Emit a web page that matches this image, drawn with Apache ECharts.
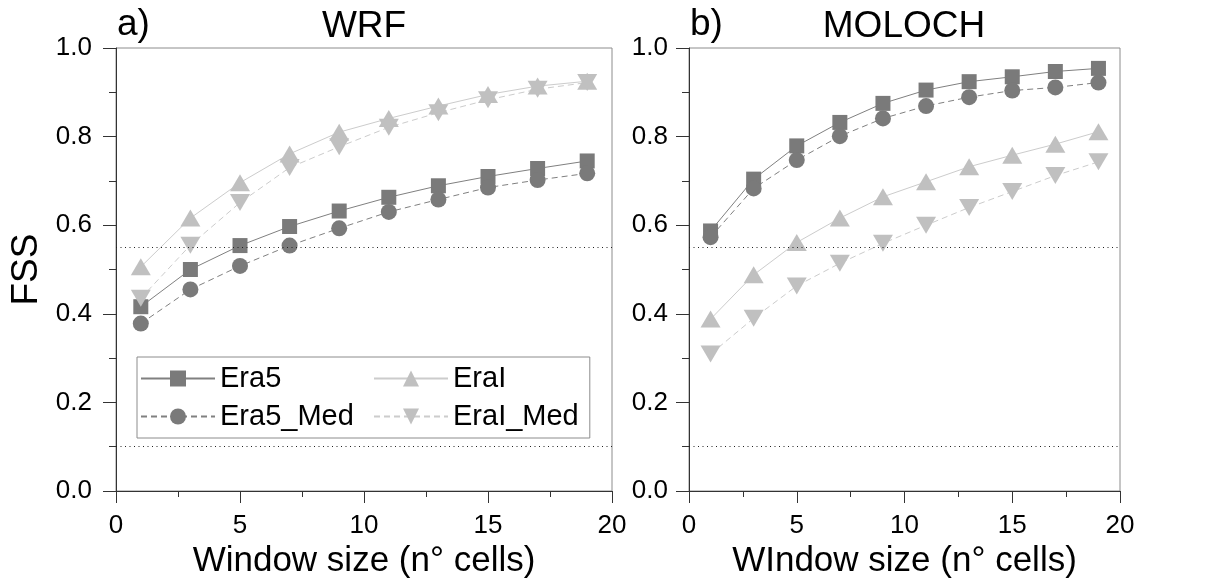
<!DOCTYPE html>
<html>
<head>
<meta charset="utf-8">
<script src="https://cdn.jsdelivr.net/npm/echarts@6/dist/echarts.min.js"></script>
<style>
  html, body { margin: 0; padding: 0; background: #fff; }
  #chart { width: 1220px; height: 584px; }
</style>
</head>
<body>
<div id="chart"></div>
<script>
// data
var windowSizes = [1, 3, 5, 7, 9, 11, 13, 15, 17, 19];

var wrfEra5    = [0.416, 0.500, 0.554, 0.597, 0.632, 0.663, 0.689, 0.710, 0.728, 0.745];
var wrfEra5Med = [0.378, 0.455, 0.508, 0.554, 0.593, 0.630, 0.658, 0.685, 0.702, 0.717];
var wrfEraI    = [0.506, 0.616, 0.696, 0.761, 0.810, 0.841, 0.869, 0.895, 0.914, 0.925];
var wrfEraIMed = [0.435, 0.555, 0.651, 0.730, 0.777, 0.821, 0.854, 0.883, 0.907, 0.922];

var molEra5    = [0.587, 0.704, 0.779, 0.832, 0.875, 0.905, 0.924, 0.935, 0.947, 0.954];
var molEra5Med = [0.573, 0.683, 0.747, 0.801, 0.841, 0.869, 0.889, 0.904, 0.911, 0.922];
var molEraI    = [0.388, 0.488, 0.561, 0.616, 0.664, 0.698, 0.732, 0.758, 0.783, 0.811];
var molEraIMed = [0.309, 0.390, 0.463, 0.514, 0.559, 0.600, 0.640, 0.676, 0.712, 0.743];

var thresholds = [0.55, 0.1];
var panelTags = ['a)', 'b)'];
var panelTitles = ['WRF', 'MOLOCH'];
var xNames = ['Window size (n° cells)', 'WIndow size (n° cells)'];
var seriesNames = ['Era5', 'Era5_Med', 'EraI', 'EraI_Med'];

(function () {
  var font = 'Liberation Sans, Arial, sans-serif';
  var dark = '#7a7a7a', light = '#c0c0c0';

  var styles = {
    'Era5':     { symbol: 'rect', size: 15, rotate: 0, color: dark, line: '#808080', type: 'solid' },
    'Era5_Med': { symbol: 'circle', size: 16, rotate: 0, color: dark, line: '#808080', type: [6, 4] },
    'EraI':     { symbol: 'triangle', size: [20, 17], rotate: 0, color: light, line: '#cccccc', type: 'solid' },
    'EraI_Med': { symbol: 'triangle', size: [20, 17], rotate: 180, color: light, line: '#cccccc', type: [6, 4] }
  };

  function pairs(values) {
    return windowSizes.map(function (x, i) { return [x, values[i]]; });
  }

  function makeSeries(name, values, idx) {
    var s = styles[name];
    return {
      name: name,
      type: 'line',
      xAxisIndex: idx,
      yAxisIndex: idx,
      data: pairs(values),
      symbol: s.symbol,
      symbolSize: s.size,
      symbolRotate: s.rotate,
      showAllSymbol: true,
      itemStyle: { color: s.color },
      lineStyle: { color: s.line, width: 1, type: s.type },
      emphasis: { disabled: true }
    };
  }

  function thresholdLine() {
    return {
      silent: true,
      symbol: ['none', 'none'],
      label: { show: false },
      lineStyle: { type: [1, 3.5], color: '#222', width: 1 },
      data: thresholds.map(function (v) { return { yAxis: v }; })
    };
  }

  function xAxisFor(i) {
    return {
      type: 'value', gridIndex: i, min: 0, max: 20, interval: 5,
      name: xNames[i], nameLocation: 'middle', nameGap: 47,
      nameTextStyle: { fontSize: 35, color: '#000', fontFamily: font },
      axisLine: { show: true, onZero: false, lineStyle: { color: '#333', width: 1 } },
      axisTick: { show: true, inside: false, length: 12, lineStyle: { color: '#333' } },
      minorTick: { show: true, splitNumber: 2, length: 6, lineStyle: { color: '#333' } },
      splitLine: { show: false },
      axisLabel: { fontSize: 26, color: '#000', margin: 22, fontFamily: font }
    };
  }

  function yAxisFor(i) {
    return {
      type: 'value', gridIndex: i, min: 0, max: 1, interval: 0.2,
      name: i === 0 ? 'FSS' : '', nameLocation: 'middle', nameGap: 71, nameRotate: 90,
      nameTextStyle: { fontSize: 37, color: '#000', fontFamily: font },
      axisLine: { show: true, onZero: false, lineStyle: { color: '#333', width: 1 } },
      axisTick: { show: true, inside: false, length: 13, lineStyle: { color: '#333' } },
      minorTick: { show: true, splitNumber: 2, length: 7, lineStyle: { color: '#333' } },
      splitLine: { show: false },
      axisLabel: {
        fontSize: 26, color: '#000', margin: i === 0 ? 24 : 21, fontFamily: font,
        formatter: function (v) { return v.toFixed(1); }
      }
    };
  }

  var wrf = [wrfEra5, wrfEra5Med, wrfEraI, wrfEraIMed];
  var mol = [molEra5, molEra5Med, molEraI, molEraIMed];
  var series = [];
  [wrf, mol].forEach(function (panel, idx) {
    panel.forEach(function (values, k) {
      var s = makeSeries(seriesNames[k], values, idx);
      if (k === 0) s.markLine = thresholdLine();
      series.push(s);
    });
  });

  var titleStyle = { fontSize: 37, fontWeight: 'normal', color: '#000', fontFamily: font };
  var legendText = { fontSize: 29, color: '#000', fontFamily: font };

  var myChart = echarts.init(document.getElementById('chart'));
  var option = {
    animation: false,
    backgroundColor: '#fff',
    textStyle: { fontFamily: font },
    title: [
      { text: panelTags[0], left: 117, top: 6, padding: 0, textStyle: titleStyle },
      { text: panelTitles[0], left: 364, top: 8, padding: 0, textAlign: 'center', textStyle: titleStyle },
      { text: panelTags[1], left: 690, top: 6, padding: 0, textStyle: titleStyle },
      { text: panelTitles[1], left: 904, top: 8, padding: 0, textAlign: 'center', textStyle: titleStyle }
    ],
    // two columns of the legend; the first one carries the frame
    legend: [
      {
        data: ['Era5', 'Era5_Med'],
        orient: 'vertical',
        left: 137, top: 357,
        padding: [7, 236, 7, 3],
        itemGap: 9, itemWidth: 74, itemHeight: 20,
        selectedMode: false,
        borderColor: '#8c8c8c', borderWidth: 1,
        textStyle: Object.assign({ width: 136 }, legendText)
      },
      {
        data: ['EraI', 'EraI_Med'],
        orient: 'vertical',
        left: 373, top: 357,
        padding: [7, 0, 7, 0],
        itemGap: 9, itemWidth: 74, itemHeight: 20,
        selectedMode: false,
        textStyle: legendText
      }
    ],
    grid: [
      { left: 116, top: 48, width: 496, height: 443, show: true, borderColor: '#8c8c8c', borderWidth: 1 },
      { left: 689, top: 48, width: 431, height: 443, show: true, borderColor: '#8c8c8c', borderWidth: 1 }
    ],
    xAxis: [xAxisFor(0), xAxisFor(1)],
    yAxis: [yAxisFor(0), yAxisFor(1)],
    series: series
  };
  myChart.setOption(option);
}());
</script>
</body>
</html>
